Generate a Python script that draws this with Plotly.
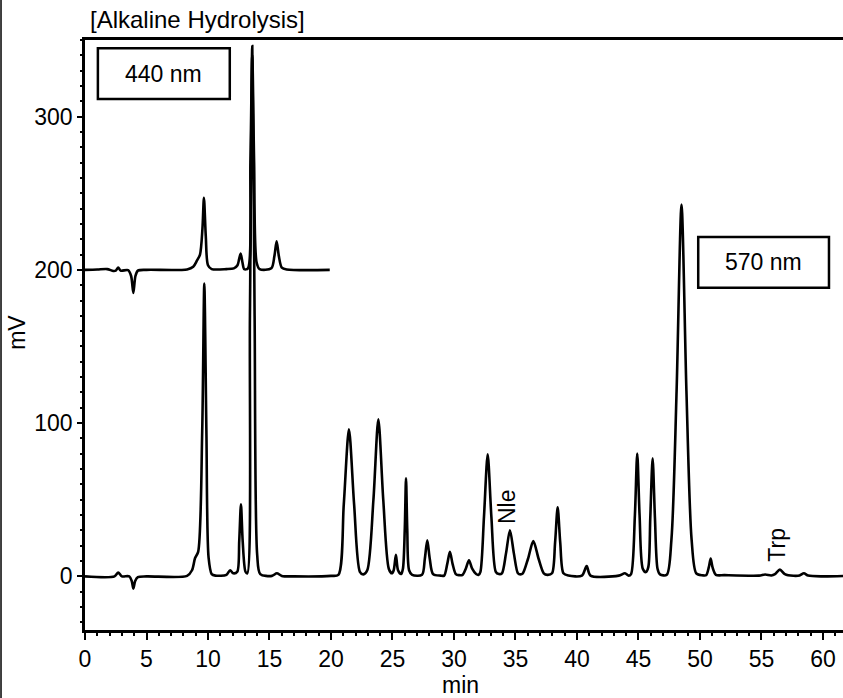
import plotly.graph_objects as go

# ---- data (time in min, signal in mV) ----
t570 = [0, 2.4, 2.7, 3.0, 3.6, 3.8, 3.93, 4.08, 4.3, 5.0, 8.3, 8.7, 8.95, 9.2, 9.53, 9.7, 9.87, 10.05, 10.3, 10.6,
        11.5, 11.8, 12.05, 12.38, 12.54, 12.68, 12.82, 13.05, 13.2, 13.41, 13.6, 13.79, 14.0, 14.25,
        15.2, 15.6, 16.0, 17.0, 20.0,
        20.6, 21.04, 21.46, 21.88, 22.35, 22.63, 22.95, 23.45, 23.85, 24.25, 24.7, 24.95,
        25.1, 25.28, 25.45, 25.7, 25.85, 26.0, 26.1, 26.2, 26.35, 26.6,
        27.4, 27.63, 27.83, 28.03, 28.3, 28.9, 29.2, 29.45, 29.67, 29.89, 30.15, 30.4,
        30.7, 30.96, 31.22, 31.48, 31.8, 32.0, 32.15, 32.44, 32.74, 33.04, 33.4, 33.65,
        33.9, 34.23, 34.55, 34.87, 35.2, 35.4, 35.6, 36.02, 36.45, 36.88, 37.3, 37.6,
        37.97, 38.22, 38.43, 38.64, 38.9, 39.3, 40.4, 40.79, 41.1, 43.4, 43.9, 44.2,
        44.4, 44.71, 44.9, 45.09, 45.35, 45.6, 45.8, 45.96, 46.15, 46.34, 46.55, 46.75,
        47.3, 47.68, 48.1, 48.5, 48.9, 49.32, 49.7, 50.2, 50.5, 50.72, 50.87, 51.02, 51.3, 52.0,
        54.8, 55.3, 55.8, 56.1, 56.5, 56.9, 57.6, 58.1, 58.45, 58.8, 60.0, 61.7]
mv570 = [0, 0, 2.5, 0, 0, -3, -8, -3, -0.5, 0, 0.3, 4, 12, 16, 95, 191, 95, 12, 1.5, 0.5,
         1, 4, 2, 3, 23, 47, 23, 3, 2, 170, 346, 170, 14, 1.5,
         0.3, 2, 0.3, 0, 0.3,
         1, 47, 96, 47, 3, 1.3, 4, 50, 102.5, 50, 5, 2,
         4, 14, 4, 1.5, 5, 31, 64, 31, 4, 1,
         1, 11.5, 23.5, 11.5, 1.5, 0.5, 0.5, 8, 16, 8, 1.5, 0.8,
         1, 5, 10.5, 5, 1.5, 1, 3, 39, 79.6, 39, 3, 1.5,
         2, 15, 30, 15, 2, 1.3, 2, 11.5, 23, 11.5, 2, 1,
         2, 22, 45, 22, 2, 0.5, 0.5, 6.7, 0.5, 0.5, 2, 0.5,
         1.5, 40, 80.2, 40, 5, 2.8, 6, 38, 77, 38, 5, 1.3,
         1, 24, 121, 242.6, 121, 24, 2, 0.7, 0.7, 6, 11.6, 6, 1, 0.8,
         0.5, 1.2, 0.6, 1.5, 4.4, 1.5, 0.4, 0.6, 2, 0.5, 0, 0.3]

t440 = [0, 1.0, 1.8, 2.3, 2.5, 2.7, 2.9, 3.5, 3.75, 3.93, 4.1, 4.3, 5.0, 8.3, 8.8, 9.1, 9.35, 9.55, 9.67, 9.82,
        10.0, 10.3, 11.5, 12.1, 12.4, 12.53, 12.66, 12.8, 12.95, 13.25, 13.45, 13.6, 13.75, 13.95, 14.2,
        15.15, 15.4, 15.58, 15.76, 16.0, 16.4, 19.9]
mv440 = [200, 200.2, 200.5, 199.3, 199.5, 201.5, 199.5, 199.8, 196, 185, 196, 199.5, 200, 200.3, 202, 206, 210, 227, 247, 222,
         203, 200.5, 200.5, 201, 203, 207, 210.6, 205, 200.5, 201, 270, 340, 270, 205, 200.5,
         201, 209, 218.6, 209, 201.5, 200.3, 200]

x_ticks = [0, 5, 10, 15, 20, 25, 30, 35, 40, 45, 50, 55, 60]
y_ticks = [0, 100, 200, 300]

FONT = "Liberation Sans, Arial, sans-serif"
FS = 23

fig = go.Figure()
fig.add_trace(go.Scatter(x=t570, y=mv570, mode="lines", line=dict(color="black", width=2.6, shape="spline", smoothing=0.8),
                         hoverinfo="skip", showlegend=False))
fig.add_trace(go.Scatter(x=t440, y=mv440, mode="lines", line=dict(color="black", width=2.6, shape="spline", smoothing=0.8),
                         hoverinfo="skip", showlegend=False))

fig.update_layout(
    width=843, height=698,
    margin=dict(l=85, r=0, t=40, b=68),
    paper_bgcolor="white", plot_bgcolor="white",
    font=dict(family=FONT, size=FS, color="black"),
    showlegend=False,
    xaxis=dict(range=[0, 61.63], tickvals=x_ticks, ticks="outside", ticklen=7, tickwidth=2, tickcolor="black",
               showline=True, linecolor="black", linewidth=2.5, mirror=True, showgrid=False, zeroline=False,
               minor=dict(dtick=1, ticks="outside", ticklen=3, tickwidth=2, tickcolor="black"),
               tickfont=dict(size=FS), fixedrange=True),
    yaxis=dict(range=[-35, 350], tickvals=y_ticks, ticks="outside", ticklen=5, tickwidth=2, tickcolor="black",
               showline=True, linecolor="black", linewidth=2.5, showgrid=False, zeroline=False,
               minor=dict(dtick=10, ticks="outside", ticklen=2, tickwidth=2, tickcolor="black"),
               tickfont=dict(size=FS), fixedrange=True),
)

# boxes with wavelength labels
fig.add_shape(type="rect", xref="paper", yref="paper", x0=0.017, x1=0.191, y0=0.90, y1=0.986,
              line=dict(color="black", width=2.5), fillcolor="white")
fig.add_shape(type="rect", xref="paper", yref="paper", x0=0.809, x1=0.9815, y0=0.58, y1=0.666,
              line=dict(color="black", width=2.5), fillcolor="white")
fig.add_annotation(xref="paper", yref="paper", x=0.104, y=0.943, text="440 nm", showarrow=False,
                   font=dict(size=FS), xanchor="center", yanchor="middle")
fig.add_annotation(xref="paper", yref="paper", x=0.895, y=0.623, text="570 nm", showarrow=False,
                   font=dict(size=FS), xanchor="center", yanchor="middle")

# peak labels
fig.add_annotation(x=34.3, y=45.8, text="Nle", textangle=-90, showarrow=False, font=dict(size=FS))
fig.add_annotation(x=56.3, y=21, text="Trp", textangle=-90, showarrow=False, font=dict(size=FS))

# title and axis titles
fig.add_annotation(xref="paper", yref="paper", x=0.004, y=1.034, text="[Alkaline Hydrolysis]", showarrow=False,
                   xanchor="left", yanchor="middle", font=dict(size=24))
fig.add_annotation(xref="paper", yref="paper", x=-0.09, y=0.505, text="mV", textangle=-90, showarrow=False,
                   xanchor="center", yanchor="middle", font=dict(size=FS))
fig.add_annotation(xref="paper", yref="paper", x=0.495, y=-0.094, text="min", showarrow=False,
                   xanchor="center", yanchor="middle", font=dict(size=FS))

# left frame edge of the figure
fig.add_shape(type="line", xref="paper", yref="paper", x0=-0.1108, x1=-0.1108, y0=-0.2, y1=1.1,
              line=dict(color="black", width=1.5))

fig.write_html("out.html", config={"displayModeBar": False},
               post_script="document.body.style.margin='0';")
